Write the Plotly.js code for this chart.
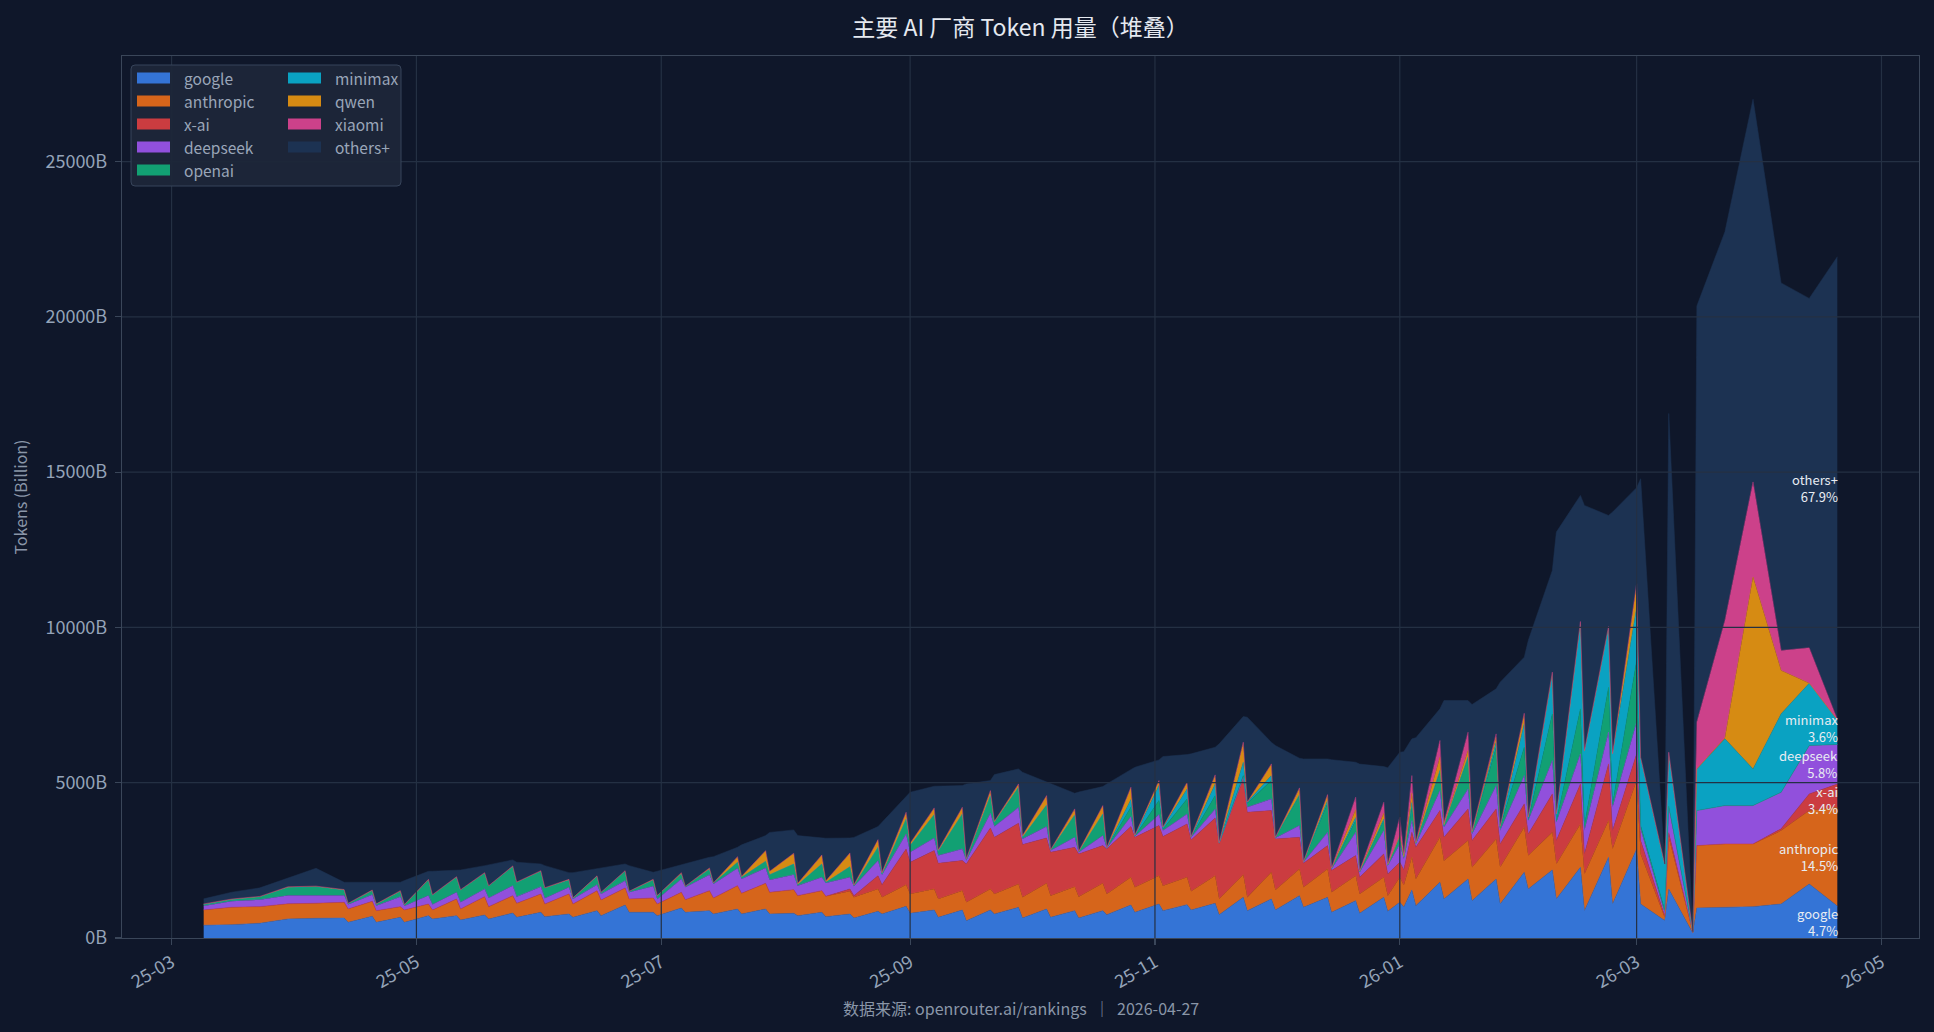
<!DOCTYPE html>
<html>
<head>
<meta charset="utf-8">
<script src="https://cdn.plot.ly/plotly-3.0.1.min.js"></script>
<style>
html,body{margin:0;padding:0;background:#0f172a;}
#chart{width:1934px;height:1032px;}
</style>
</head>
<body>
<div id="chart"></div>
<script>
// ---------------- DATA (Tokens, Billion) ----------------
const dates = ['2025-03-09','2025-03-16','2025-03-23','2025-03-30','2025-04-06','2025-04-13','2025-04-14','2025-04-20','2025-04-21','2025-04-27','2025-04-28','2025-05-04','2025-05-05','2025-05-11','2025-05-12','2025-05-18','2025-05-19','2025-05-25','2025-05-26','2025-06-01','2025-06-02','2025-06-08','2025-06-09','2025-06-15','2025-06-16','2025-06-22','2025-06-23','2025-06-29','2025-06-30','2025-07-06','2025-07-07','2025-07-13','2025-07-14','2025-07-20','2025-07-21','2025-07-27','2025-07-28','2025-08-03','2025-08-04','2025-08-10','2025-08-11','2025-08-17','2025-08-18','2025-08-24','2025-08-25','2025-08-31','2025-09-01','2025-09-07','2025-09-08','2025-09-14','2025-09-15','2025-09-21','2025-09-22','2025-09-28','2025-09-29','2025-10-05','2025-10-06','2025-10-12','2025-10-13','2025-10-19','2025-10-20','2025-10-26','2025-10-27','2025-11-02','2025-11-03','2025-11-09','2025-11-10','2025-11-16','2025-11-17','2025-11-23','2025-11-24','2025-11-30','2025-12-01','2025-12-07','2025-12-08','2025-12-14','2025-12-15','2025-12-21','2025-12-22','2025-12-28','2025-12-29','2026-01-01','2026-01-02','2026-01-04','2026-01-05','2026-01-11','2026-01-12','2026-01-18','2026-01-19','2026-01-25','2026-01-26','2026-02-01','2026-02-02','2026-02-08','2026-02-09','2026-02-15','2026-02-16','2026-02-22','2026-02-23','2026-03-01','2026-03-02','2026-03-08','2026-03-09','2026-03-15','2026-03-16','2026-03-23','2026-03-30','2026-04-06','2026-04-13','2026-04-20'];

const google = [410,430,475,615,635,
 645,505,700,505,665,505,
 720,612,720,580,740,612,
 805,666,827,687,773,666,
 881,720,1063,827,827,720,
 967,827,881,773,934,773,
 934,773,795,720,827,687,
 773,644,859,773,1020,795,
 902,666,902,558,902,773,
 988,644,935,666,881,644,
 881,752,1063,827,1095,881,
 1074,902,1117,752,1310,880,
 1257,902,1364,988,1310,827,
 1203,795,1310,860,1150,1000,
 1547,1042,1794,1256,1901,1203,
 1901,1095,2116,1579,2191,1257,
 2277,881,2600,1095,2868,1095,
 560,1579,150,967,988,1010,1095,1740,1031];

const anthropic = [494,560,535,485,485,
 505,430,480,375,345,397,
 375,290,536,355,592,398,
 559,451,591,408,645,429,
 644,504,548,429,462,375,
 504,408,644,516,752,666,
 827,698,762,644,698,656,
 731,666,720,537,698,623,
 677,591,623,591,677,645,
 752,666,826,698,773,688,
 880,666,892,805,913,805,
 881,602,891,505,730,430,
 859,645,859,645,913,644,
 805,623,645,504,805,700,
 1053,859,1449,1235,1235,1074,
 1289,1182,1450,1074,1214,1127,
 1396,1181,1180,1773,2201,1611,
 100,1664,30,2008,2041,2019,2363,2363,3181];

const xai = [0,0,0,0,0,
 0,0,0,0,0,0,
 0,0,0,0,0,0,
 0,0,0,0,0,0,
 0,0,0,0,0,0,
 0,0,0,0,0,0,
 0,0,0,0,0,0,
 75,54,429,408,1149,1020,
 1235,1149,967,1235,1965,1825,
 1955,1697,1461,1396,1267,1375,
 1214,1449,1632,1611,1611,1579,
 1718,1654,1858,1772,3083,2739,
 1987,1643,1020,773,752,699,
 645,537,752,698,483,500,
 805,1020,860,752,1021,859,
 967,752,752,698,1235,752,
 1289,645,1826,590,860,430,
 50,150,0,0,0,0,60,537,746];

const deepseek = [129,190,225,265,245,
 215,140,215,160,320,129,
 270,173,214,215,248,280,
 322,215,236,183,215,162,
 193,194,236,214,376,151,
 430,397,515,451,559,462,
 494,398,483,322,430,429,
 376,300,484,322,484,322,
 408,247,376,108,473,344,
 515,183,365,54,323,54,
 322,32,322,30,355,193,
 322,86,291,32,54,161,
 376,32,376,32,430,54,
 752,161,751,268,591,350,
 376,108,644,323,643,215,
 751,429,912,430,1074,591,
 967,751,1021,752,1020,376,
 100,817,10,1128,1235,1235,1175,1557,1272];

const openai = [54,65,95,270,290,
 180,40,130,55,170,43,
 505,311,485,397,505,385,
 614,462,494,333,236,32,
 269,53,301,33,204,118,
 161,33,172,32,193,54,
 215,171,344,32,429,20,
 343,30,429,22,483,215,
 752,139,1127,53,569,140,
 645,54,698,20,719,20,
 698,10,301,10,451,54,
 484,10,429,10,53,129,
 591,10,967,10,934,10,
 376,20,323,20,215,50,
 430,20,600,54,1000,54,
 1235,108,913,20,1503,30,
 1449,162,1450,100,1987,108,
 100,30,0,0,0,0,0,0,0];

const minimax = [0,0,0,0,0,
 0,0,0,0,0,0,
 0,0,0,0,0,0,
 0,0,0,0,0,0,
 0,0,0,0,0,0,
 0,0,0,0,0,0,
 0,0,0,0,0,0,
 0,0,0,0,0,0,
 0,0,0,0,0,0,
 0,0,0,0,0,0,
 0,0,247,20,483,54,
 322,10,376,10,430,30,
 160,10,30,10,86,10,
 100,10,50,10,30,10,
 150,10,50,10,30,10,
 160,20,752,87,1289,238,
 2793,2416,1933,1619,1718,2200,
 1470,1742,10,1342,2148,1181,2524,2008,790];

const qwen = [10,10,10,15,15,
 15,5,21,5,25,5,
 20,10,20,10,20,10,
 20,10,20,10,20,5,
 15,5,20,5,20,5,
 43,5,43,5,182,32,
 344,108,344,43,290,50,
 441,20,247,54,215,75,
 215,43,215,10,161,32,
 107,54,301,10,194,10,
 269,10,398,10,161,10,
 214,5,290,5,644,10,
 376,5,217,5,193,5,
 250,5,186,5,30,10,
 300,10,423,20,206,10,
 163,10,322,10,54,10,
 20,0,20,10,752,0,
 0,0,0,0,30,6176,1396,0,0];

const xiaomi = [0,0,0,0,0,
 0,0,0,0,0,0,
 0,0,0,0,0,0,
 0,0,0,0,0,0,
 0,0,0,0,0,0,
 0,0,0,0,0,0,
 0,0,0,0,0,0,
 0,0,0,0,0,0,
 0,0,0,0,0,0,
 0,0,0,0,0,0,
 0,0,0,0,0,0,
 0,0,0,0,0,0,
 0,0,0,0,0,10,
 402,20,354,30,584,100,
 569,30,540,77,591,33,
 107,10,20,10,0,0,
 0,0,0,0,0,0,
 0,0,0,1504,3782,3065,645,1139,20];

const others = [163,220,275,285,575,
 235,675,249,695,270,771,
 258,754,215,633,225,675,
 195,636,217,709,216,811,
 221,779,216,822,227,781,
 258,730,344,843,301,1013,
 483,1252,752,1536,537,1369,
 483,1526,419,1611,537,1643,
 698,2052,698,2407,322,1503,
 483,2040,429,2118,504,1909,
 612,2043,590,2186,666,2267,
 892,2660,891,3165,827,2731,
 698,2950,956,3304,1149,3481,
 1127,3429,1149,3085,2094,3280,
 1182,3351,1018,3920,1020,4060,
 1450,4632,1806,5672,3275,9065,
 4061,7894,3577,7776,3094,8969,
 4,10908,0,13401,12520,12323,11836,11251,14897];

const seriesNames = ['google','anthropic','x-ai','deepseek','openai','minimax','qwen','xiaomi','others+'];
const seriesValues = [google, anthropic, xai, deepseek, openai, minimax, qwen, xiaomi, others];

const xTickVals = ['2025-03-01','2025-05-01','2025-07-01','2025-09-01','2025-11-01','2026-01-01','2026-03-01','2026-05-01'];
const xTickText = ['25-03','25-05','25-07','25-09','25-11','26-01','26-03','26-05'];
const yTickVals = [0,5000,10000,15000,20000,25000];
const yTickText = ['0B','5000B','10000B','15000B','20000B','25000B'];

const titleText = '主要 AI 厂商 Token 用量（堆叠）';
const yTitleText = 'Tokens (Billion)';
const footerText = '数据来源: openrouter.ai/rankings\u00a0\u00a0│\u00a0\u00a02026-04-27';

// ---------------- STYLE ----------------
const colors = ['#3474d6','#d6651b','#cb3c40','#9150dc','#12a073','#0aa2c2','#d68b13','#cc418a','#1c3252'];
const FONT = "'Noto Sans CJK SC', 'Noto Sans', sans-serif";
const BG = '#0f172a';
const GRID = '#243043';
const AXIS = '#3a4659';
const TICKC = '#94a3b8';

const M = {l:122, r:15, t:56, b:94};
const PW = 1934 - M.l - M.r, PH = 1032 - M.t - M.b;
const px = x => (x - M.l) / PW;
const py = y => (M.t + PH - y) / PH;

const traces = seriesNames.map((n, i) => ({
  type: 'scatter', mode: 'lines', x: dates, y: seriesValues[i],
  name: n, stackgroup: 'one',
  fillcolor: colors[i],
  line: {width: 0.5, color: colors[i]},
  hoverinfo: 'skip', showlegend: false
}));

const shapes = [];
xTickVals.forEach(v => shapes.push({type:'line', layer:'above', xref:'x', yref:'paper', x0:v, x1:v, y0:0, y1:1, line:{color:GRID, width:1.2}}));
yTickVals.slice(1).forEach(v => shapes.push({type:'line', layer:'above', xref:'paper', yref:'y', x0:0, x1:1, y0:v, y1:v, line:{color:GRID, width:1.2}}));

// legend box (rounded)
(function(){
  const x0 = px(131), x1 = px(401), y0 = py(186), y1 = py(65);
  const rx = 4 / PW, ry = 4 / PH;
  const path = `M ${x0+rx},${y1} L ${x1-rx},${y1} Q ${x1},${y1} ${x1},${y1-ry} L ${x1},${y0+ry} Q ${x1},${y0} ${x1-rx},${y0} L ${x0+rx},${y0} Q ${x0},${y0} ${x0},${y0+ry} L ${x0},${y1-ry} Q ${x0},${y1} ${x0+rx},${y1} Z`;
  shapes.push({type:'path', layer:'above', xref:'paper', yref:'paper', path:path,
    fillcolor:'rgba(29,39,57,0.93)', line:{color:'#37445a', width:1}});
})();

const annotations = [];
seriesNames.forEach((n, i) => {
  const col = i < 5 ? 0 : 1;
  const row = i < 5 ? i : i - 5;
  const sx0 = col === 0 ? 137 : 288;
  const tx = col === 0 ? 182 : 333;
  const cy = 78 + 23 * row;
  shapes.push({type:'rect', layer:'above', xref:'paper', yref:'paper',
    x0:px(sx0), x1:px(sx0 + 33), y0:py(cy + 5.5), y1:py(cy - 5.5),
    fillcolor:colors[i], line:{width:0}});
  annotations.push({xref:'paper', yref:'paper', x:px(tx), y:py(cy), xanchor:'left', yanchor:'middle',
    text:n, showarrow:false, font:{family:FONT, size:15.5, color:'#9aa6b8'}});
});

// end-of-series share labels (small nudges keep the tight labels apart)
const labelNudge = {'x-ai': -4, 'minimax': 4};
const last = dates.length - 1;
const lastVals = seriesValues.map(a => a[last]);
const lastTotal = lastVals.reduce((s, v) => s + v, 0);
let cum = 0;
lastVals.forEach((v, i) => {
  const mid = cum + v / 2;
  cum += v;
  const share = v / lastTotal * 100;
  if (share >= 3) {
    annotations.push({xref:'x', yref:'y', x:dates[last], y:mid, xanchor:'right', yanchor:'middle',
      xshift:2, yshift:labelNudge[seriesNames[i]] || 0, align:'right',
      text:seriesNames[i] + '<br>' + share.toFixed(1) + '%', showarrow:false, borderpad:0,
      font:{family:FONT, size:13, color:'#e8ecf2'}});
  }
});

// footer
annotations.push({xref:'paper', yref:'paper', x:0.5, y:py(1008), xanchor:'center', yanchor:'middle',
  text:footerText, showarrow:false, font:{family:FONT, size:16, color:'#8a96a8'}});

const layout = {
  width:1934, height:1032,
  paper_bgcolor:BG, plot_bgcolor:BG,
  margin:{l:M.l, r:M.r, t:M.t, b:M.b, pad:0},
  font:{family:FONT, color:TICKC},
  title:{text:titleText, x:0.5, xref:'paper', y:1 - 28/1032, yref:'container', yanchor:'middle', xanchor:'center',
    font:{family:FONT, size:23, color:'#e5e9f0'}},
  showlegend:false,
  xaxis:{type:'date', range:['2025-02-16 15:36','2026-05-10 08:24'],
    tickvals:xTickVals, ticktext:xTickText, tickangle:-30,
    showgrid:false, zeroline:false, showline:true, mirror:true, linecolor:AXIS, linewidth:1.2,
    ticks:'outside', ticklen:6, tickwidth:1.2, tickcolor:AXIS,
    tickfont:{family:FONT, size:18, color:TICKC}},
  yaxis:{range:[0, 28400], tickvals:yTickVals, ticktext:yTickText,
    showgrid:false, zeroline:false, showline:true, mirror:true, linecolor:AXIS, linewidth:1.2,
    ticks:'outside', ticklen:6, tickwidth:1.2, tickcolor:AXIS, ticklabelstandoff:4,
    tickfont:{family:FONT, size:18, color:TICKC},
    title:{text:yTitleText, standoff:13, font:{family:FONT, size:16, color:'#8a96a8'}}},
  shapes:shapes,
  annotations:annotations
};

Plotly.newPlot('chart', traces, layout, {displayModeBar:false, staticPlot:true});
</script>
</body>
</html>
